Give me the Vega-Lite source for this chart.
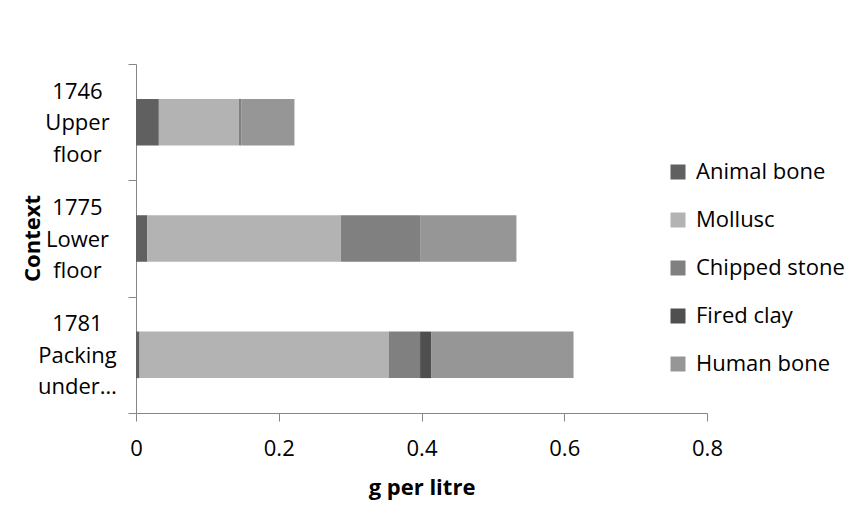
{
  "$schema": "https://vega.github.io/schema/vega-lite/v6.json",
  "width": 571,
  "height": 349,
  "autosize": {"type": "none"},
  "padding": {"left": 136, "top": 64, "right": 154, "bottom": 104},
  "background": "white",
  "config": {
    "view": {"stroke": null},
    "font": "Open Sans"
  },
  "data": {
    "values": [
      {"context": "1746 Upper floor", "material": "Animal bone", "ord": 1, "value": 0.032},
      {"context": "1746 Upper floor", "material": "Mollusc", "ord": 2, "value": 0.112},
      {"context": "1746 Upper floor", "material": "Chipped stone", "ord": 3, "value": 0.004},
      {"context": "1746 Upper floor", "material": "Fired clay", "ord": 4, "value": 0},
      {"context": "1746 Upper floor", "material": "Human bone", "ord": 5, "value": 0.074},
      {"context": "1775 Lower floor", "material": "Animal bone", "ord": 1, "value": 0.016},
      {"context": "1775 Lower floor", "material": "Mollusc", "ord": 2, "value": 0.271},
      {"context": "1775 Lower floor", "material": "Chipped stone", "ord": 3, "value": 0.111},
      {"context": "1775 Lower floor", "material": "Fired clay", "ord": 4, "value": 0},
      {"context": "1775 Lower floor", "material": "Human bone", "ord": 5, "value": 0.135},
      {"context": "1781 Packing under…", "material": "Animal bone", "ord": 1, "value": 0.005},
      {"context": "1781 Packing under…", "material": "Mollusc", "ord": 2, "value": 0.349},
      {"context": "1781 Packing under…", "material": "Chipped stone", "ord": 3, "value": 0.044},
      {"context": "1781 Packing under…", "material": "Fired clay", "ord": 4, "value": 0.016},
      {"context": "1781 Packing under…", "material": "Human bone", "ord": 5, "value": 0.199}
    ]
  },
  "mark": {"type": "bar", "height": {"band": 0.4}},
  "encoding": {
    "y": {
      "field": "context",
      "type": "nominal",
      "sort": null,
      "scale": {"paddingInner": 0, "paddingOuter": 0},
      "axis": {
        "title": "Context",
        "titleFontSize": 22,
        "titleFontWeight": "bold",
        "titleColor": "black",
        "titleAngle": -90,
        "titleX": -104,
        "titleY": 174,
        "titleAlign": "center",
        "titleBaseline": "middle",
        "labelExpr": "split(datum.label, ' ')",
        "labelFontSize": 22,
        "labelColor": "black",
        "labelAlign": "center",
        "labelBaseline": "middle",
        "labelLineHeight": 31.5,
        "labelOffset": -31,
        "labelPadding": 51,
        "tickBand": "extent",
        "tickSize": 8,
        "tickColor": "#868686",
        "domainColor": "#868686",
        "labelLimit": 200
      }
    },
    "x": {
      "field": "value",
      "type": "quantitative",
      "stack": "zero",
      "scale": {"domain": [0, 0.8], "nice": false},
      "axis": {
        "title": "g per litre",
        "titleFontSize": 22,
        "titleFontWeight": "bold",
        "titleColor": "black",
        "titlePadding": 18,
        "values": [0, 0.2, 0.4, 0.6, 0.8],
        "labelExpr": "datum.value == 0 ? '0' : format(datum.value, '.1f')",
        "labelFlush": false,
        "labelFontSize": 22,
        "labelColor": "black",
        "labelPadding": 17,
        "grid": false,
        "tickSize": 8,
        "tickColor": "#868686",
        "domainColor": "#868686"
      }
    },
    "color": {
      "field": "material",
      "type": "nominal",
      "sort": ["Animal bone", "Mollusc", "Chipped stone", "Fired clay", "Human bone"],
      "scale": {
        "domain": ["Animal bone", "Mollusc", "Chipped stone", "Fired clay", "Human bone"],
        "range": ["#606060", "#b3b3b3", "#808080", "#4f4f4f", "#969696"]
      },
      "legend": {
        "title": null,
        "orient": "none",
        "legendX": 531,
        "legendY": 97,
        "symbolType": "square",
        "symbolSize": 225,
        "symbolStrokeWidth": 0,
        "labelFontSize": 22,
        "labelColor": "black",
        "labelOffset": 7,
        "rowPadding": 26,
        "labelLimit": 300
      }
    },
    "order": {"field": "ord", "type": "quantitative"}
  }
}
